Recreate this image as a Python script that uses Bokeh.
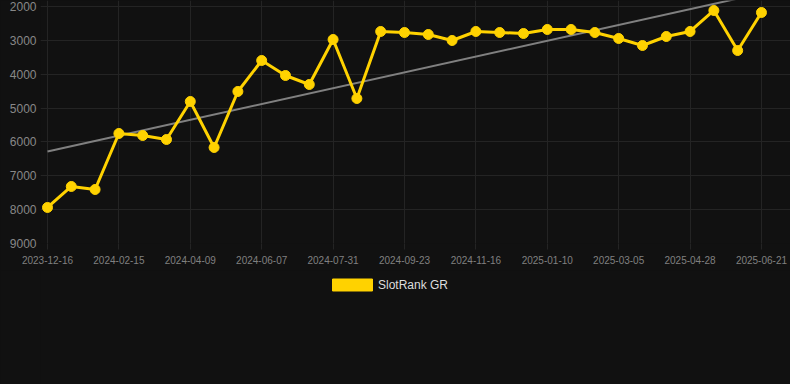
from bokeh.plotting import figure
from bokeh.layouts import column
from bokeh.models import Range1d, FixedTicker, Legend, LegendItem, ColumnDataSource
from bokeh.embed import file_html
from bokeh.resources import INLINE
import numpy as np

dates = [
    "2023-12-16", "2024-01-03", "2024-01-24", "2024-02-15", "2024-03-03", "2024-03-22",
    "2024-04-09", "2024-04-29", "2024-05-18", "2024-06-07", "2024-06-25", "2024-07-13",
    "2024-07-31", "2024-08-18", "2024-09-05", "2024-09-23", "2024-10-11", "2024-10-29",
    "2024-11-16", "2024-12-04", "2024-12-22", "2025-01-10", "2025-01-28", "2025-02-15",
    "2025-03-05", "2025-03-23", "2025-04-10", "2025-04-28", "2025-05-16", "2025-06-03",
    "2025-06-21",
]
ranks = [
    7936, 7316, 7405, 5751, 5810, 5928, 4806, 6164, 4510, 3595, 4038, 4304,
    2975, 4717, 2738, 2768, 2827, 3004, 2738, 2768, 2797, 2679, 2679, 2768,
    2945, 3152, 2886, 2738, 2118, 3300, 2177,
]
y_ticks = [2000, 3000, 4000, 5000, 6000, 7000, 8000, 9000]
series_name = "SlotRank GR"

x = list(range(len(dates)))
tick_idx = list(range(0, len(dates), 3))

BG = "#111111"
GOLD = "#FFD200"
GRID = "#242424"

p = figure(width=790, height=270, frame_width=750, frame_height=243,
           output_backend="svg", toolbar_location=None,
           x_range=Range1d(-0.294, 31.22), y_range=Range1d(9000, 1823),
           min_border_left=40, min_border_right=0, min_border_top=0, min_border_bottom=27)
p.background_fill_color = BG
p.border_fill_color = BG
p.outline_line_color = None

# trend line (linear regression of the data)
coef = np.polyfit(x, ranks, 1)
tx = [x[0], x[-1]]
ty = list(np.polyval(coef, tx))
p.line(tx, ty, line_color="#808080", line_width=2)

src = ColumnDataSource(dict(x=x, y=ranks))
p.line("x", "y", source=src, line_color=GOLD, line_width=3)
p.scatter("x", "y", source=src, size=10, fill_color=GOLD, line_color=GOLD)

p.xaxis.ticker = FixedTicker(ticks=tick_idx)
p.xaxis.major_label_overrides = {i: dates[i] for i in tick_idx}
p.yaxis.ticker = FixedTicker(ticks=y_ticks)
for ax in (p.xaxis, p.yaxis):
    ax.axis_line_color = None
    ax.minor_tick_line_color = None
    ax.major_tick_in = 0
    ax.major_label_text_font = "Liberation Sans"
p.yaxis.major_tick_line_color = None
p.yaxis.major_tick_out = 0
p.xaxis.major_tick_line_color = GRID
p.xaxis.major_tick_out = 6
p.xaxis.major_label_text_font_size = "10px"
p.xaxis.major_label_text_color = "#808080"
p.xaxis.major_label_standoff = 6
p.yaxis.major_label_text_font_size = "12px"
p.yaxis.major_label_text_color = "#888888"
p.yaxis.major_label_standoff = 4

p.xgrid.ticker = FixedTicker(ticks=tick_idx)
p.ygrid.ticker = FixedTicker(ticks=y_ticks)
p.grid.grid_line_color = GRID
p.grid.grid_line_width = 1

# legend strip below the chart
lg = figure(width=790, height=114, output_backend="svg", toolbar_location=None,
            x_range=Range1d(0, 1), y_range=Range1d(0, 1),
            min_border_left=0, min_border_right=0, min_border_top=0, min_border_bottom=0,
            x_axis_location=None, y_axis_location=None)
lg.background_fill_color = BG
lg.border_fill_color = BG
lg.outline_line_color = None
lg.grid.visible = False
# swatch renderer kept outside the visible range; only its legend entry shows
dummy = lg.quad(left=[5], right=[6], top=[5], bottom=[6], fill_color=GOLD, line_color=GOLD)
legend = Legend(items=[LegendItem(label=series_name, renderers=[dummy])],
                location=(279, 84), orientation="horizontal",
                glyph_width=50, glyph_height=15, label_text_font="Liberation Sans",
                label_text_font_size="12px", label_text_color="#dddddd",
                background_fill_alpha=0, border_line_alpha=0, margin=0, padding=8,
                label_standoff=1)
lg.add_layout(legend, "center")

layout = column(p, lg, spacing=0, styles={"background-color": BG})
open("out.html", "w").write(file_html(layout, INLINE))
